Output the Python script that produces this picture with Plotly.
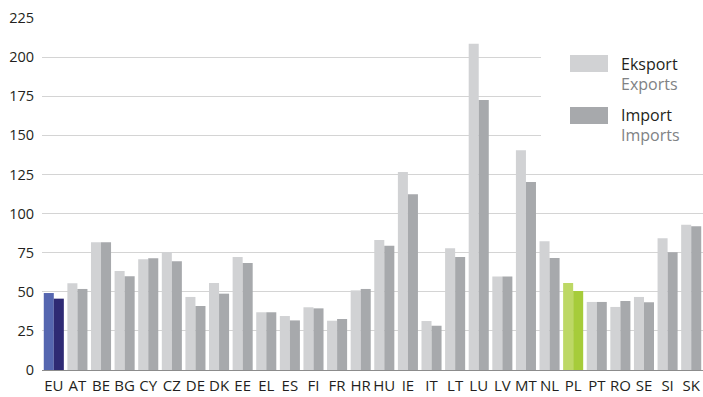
import plotly.graph_objects as go

# ---------------------------------------------------------------------------
# Data
# ---------------------------------------------------------------------------
countries = ["EU", "AT", "BE", "BG", "CY", "CZ", "DE", "DK", "EE", "EL",
             "ES", "FI", "FR", "HR", "HU", "IE", "IT", "LT", "LU", "LV",
             "MT", "NL", "PL", "PT", "RO", "SE", "SI", "SK"]

exports = [49.2, 55.4, 81.6, 63.3, 70.8, 75.4, 46.7, 55.6, 72.2, 36.9,
           34.5, 40.1, 31.5, 50.9, 83.1, 126.6, 31.3, 77.8, 208.6, 59.7,
           140.5, 82.3, 55.6, 43.5, 40.3, 46.7, 84.2, 92.9]

imports = [45.6, 51.8, 81.6, 59.9, 71.4, 69.5, 40.9, 48.8, 68.4, 36.9,
           31.7, 39.4, 32.6, 51.8, 79.5, 112.3, 28.3, 72.2, 172.6, 59.7,
           120.2, 71.6, 50.5, 43.5, 44.1, 43.3, 75.3, 91.9]

y_ticks = [0, 25, 50, 75, 100, 125, 150, 175, 200, 225]

# ---------------------------------------------------------------------------
# Colours
# ---------------------------------------------------------------------------
EXP_GREY = "#d1d2d4"
IMP_GREY = "#a7a9ac"
HIGHLIGHT = {
    "EU": ("#5566b0", "#2e2a74"),
    "PL": ("#bdd865", "#a6cc3a"),
}

exp_colors = [HIGHLIGHT.get(c, (EXP_GREY, IMP_GREY))[0] for c in countries]
imp_colors = [HIGHLIGHT.get(c, (EXP_GREY, IMP_GREY))[1] for c in countries]

FONT = "Open Sans"
W, H = 703, 397
L, R, T, B = 42, 0, 18, 27


def px_x(px):
    return (px - L) / (W - L - R)


def px_y(py):
    return (H - B - py) / (H - B - T)


fig = go.Figure()

fig.add_trace(go.Bar(
    x=countries, y=exports, name="Eksport",
    marker=dict(color=exp_colors, line=dict(width=0)),
))
fig.add_trace(go.Bar(
    x=countries, y=imports, name="Import",
    marker=dict(color=imp_colors, line=dict(width=0)),
))

# legend drawn by hand: white panel, swatches and two-line labels
shapes = [
    dict(type="rect", xref="paper", yref="paper", layer="above",
         x0=px_x(541), x1=px_x(703), y0=px_y(165), y1=px_y(40),
         fillcolor="white", line=dict(width=0)),
    dict(type="rect", xref="paper", yref="paper", layer="above",
         x0=px_x(570), x1=px_x(608), y0=px_y(72), y1=px_y(55),
         fillcolor=EXP_GREY, line=dict(width=0)),
    dict(type="rect", xref="paper", yref="paper", layer="above",
         x0=px_x(570), x1=px_x(608), y0=px_y(124), y1=px_y(107),
         fillcolor=IMP_GREY, line=dict(width=0)),
]

labels = [("Eksport", "#231f20", 64), ("Exports", "#808285", 84),
          ("Import", "#231f20", 115), ("Imports", "#808285", 135)]
annotations = [
    dict(text=t, xref="paper", yref="paper", x=px_x(619), y=px_y(py),
         xanchor="left", yanchor="middle", showarrow=False,
         font=dict(family=FONT, size=16, color=col))
    for t, col, py in labels
]

fig.update_layout(
    width=W, height=H,
    margin=dict(l=L, r=R, t=T, b=B, pad=0),
    paper_bgcolor="white", plot_bgcolor="white",
    barmode="group", bargap=0.15, bargroupgap=0,
    showlegend=False,
    font=dict(family=FONT, size=14, color="#231f20"),
    shapes=shapes, annotations=annotations,
)

fig.update_xaxes(
    showgrid=False, showline=True, linecolor="#8c8c8c", linewidth=1,
    ticks="", tickfont=dict(family=FONT, size=15, color="#231f20"),
    ticklabelstandoff=2,
)
fig.update_yaxes(
    range=[0, 225], tickvals=y_ticks, showgrid=True,
    gridcolor="#d4d4d4", gridwidth=1, zeroline=False,
    ticks="", tickfont=dict(family=FONT, size=14.5, color="#231f20"),
    ticklabelstandoff=7,
)

# drop the page's default body margin so the figure sits at the corner
fig.write_html(
    "out.html",
    config={"displayModeBar": False},
    post_script="document.body.style.margin='0';",
)
